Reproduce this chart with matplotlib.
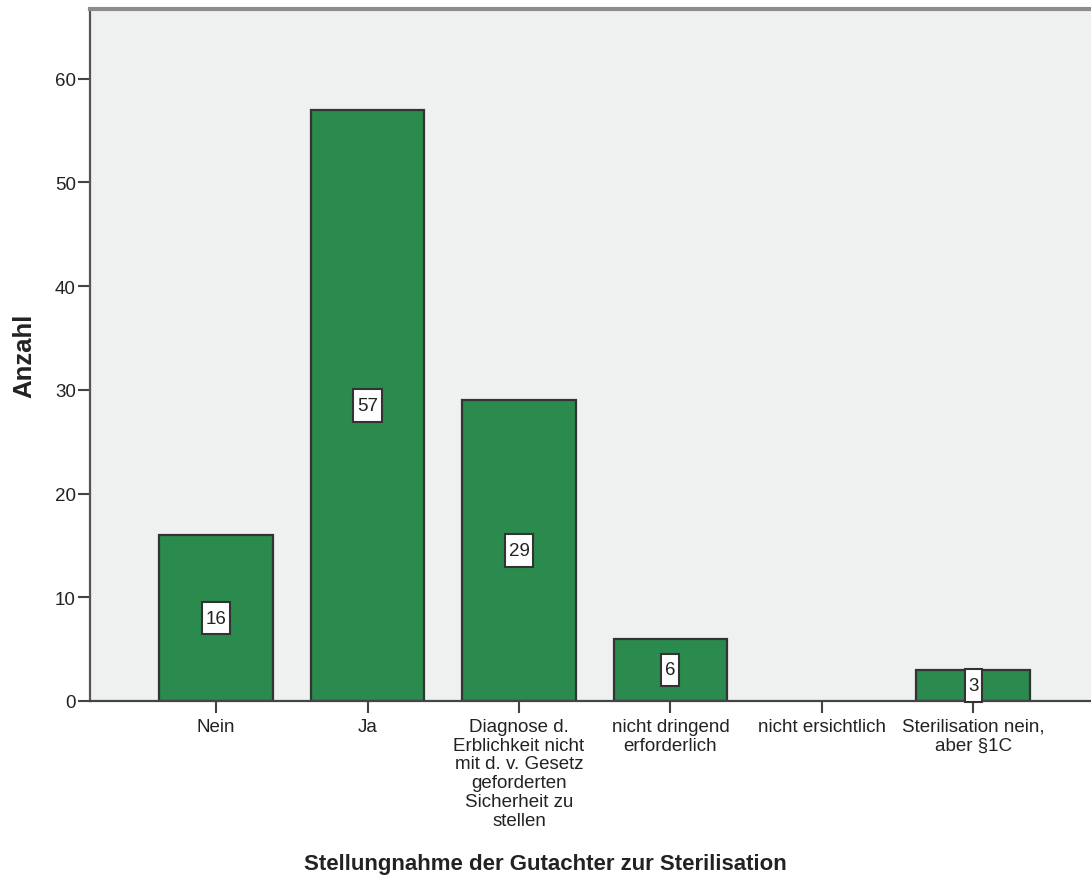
import matplotlib
matplotlib.use("Agg")
import matplotlib.pyplot as plt
from matplotlib.path import Path
import numpy as np

# Kategorien der Stellungnahme und Anzahl der Fälle
categories = [
    "Nein",
    "Ja",
    "Diagnose d.\nErblichkeit nicht\nmit d. v. Gesetz\ngeforderten\nSicherheit zu\nstellen",
    "nicht dringend\nerforderlich",
    "nicht ersichtlich",
    "Sterilisation nein,\naber §1C",
]
counts = [16, 57, 29, 6, 0, 3]
y_ticks = [0, 10, 20, 30, 40, 50, 60]

plt.rcParams["font.family"] = ["Liberation Sans", "DejaVu Sans"]

W, H = 1091, 879
fig = plt.figure(figsize=(W / 100, H / 100), dpi=100)
ax = fig.add_axes([90 / W, (H - 702) / H, (W - 90) / W, (702 - 10) / H])
ax.set_facecolor("#eff0f0")


def label_box(x0, y0, width, height, mutation_size):
    """Rechteckiger Kasten mit größerem vertikalem Abstand."""
    px = 0.2 * mutation_size
    py = 0.42 * mutation_size
    x0, y0 = x0 - px, y0 - py
    x1, y1 = x0 + width + 2 * px, y0 + height + 2 * py
    return Path([(x0, y0), (x1, y0), (x1, y1), (x0, y1), (x0, y0)],
                closed=True)


x = np.arange(len(categories))
vals = np.array(counts)
mask = vals > 0
ax.bar(x[mask], vals[mask], width=0.752, color="#2b8a4d",
       edgecolor="#333333", linewidth=1.6, zorder=3)

# Wertbeschriftungen in der Mitte der Balken
for xi, v in zip(x[mask], vals[mask]):
    ax.text(xi, v / 2, str(v), ha="center", va="center", fontsize=13.5,
            color="#222222", zorder=6, clip_on=False,
            bbox=dict(boxstyle=label_box, fc="white",
                      ec="#333333", lw=1.5))

ax.set_xlim(-0.832, 5.776)
ax.set_ylim(0, 66.7)
ax.set_xticks(x)
ax.set_xticklabels(categories, fontsize=13.5, color="#222222",
                   linespacing=1.14)
ax.set_yticks(y_ticks)
ax.set_yticklabels([str(t) for t in y_ticks], fontsize=13.5, color="#222222")
ax.tick_params(axis="x", length=8.6, width=1.5, color="#444444", pad=3.5)
ax.tick_params(axis="y", length=8.6, width=1.5, color="#444444", pad=1.5)

ax.spines["right"].set_visible(False)
ax.spines["top"].set_color("#8c8c8c")
ax.spines["top"].set_linewidth(3)
ax.spines["left"].set_color("#555555")
ax.spines["left"].set_linewidth(1.6)
ax.spines["bottom"].set_color("#444444")
ax.spines["bottom"].set_linewidth(1.6)
for sp in ax.spines.values():
    sp.set_zorder(4)

fig.text(24 / W, 1 - 356 / H, "Anzahl", rotation=90, ha="center",
         va="center", fontsize=18.5, fontweight="bold", color="#222222")
fig.text(0.5, 1 - 865 / H, "Stellungnahme der Gutachter zur Sterilisation",
         ha="center", va="center", fontsize=16, fontweight="bold",
         color="#222222")

fig.savefig("out.png", dpi=100)
